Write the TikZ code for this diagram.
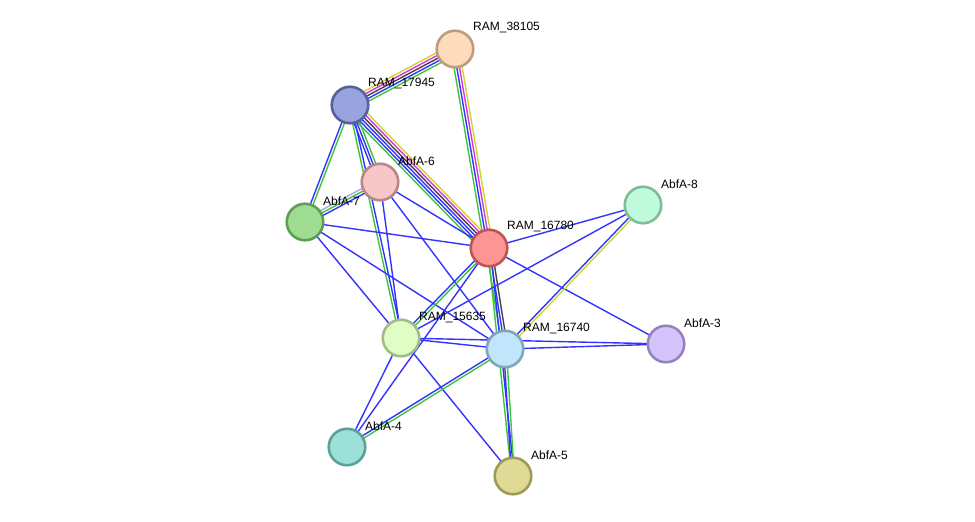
\documentclass[tikz,border=0pt]{standalone}
\usepackage{fontspec}
\setmainfont{Liberation Sans}
\usetikzlibrary{calc,backgrounds}
\definecolor{eg}{HTML}{3DC43D}
\definecolor{eb}{HTML}{3333FF}
\definecolor{ek}{HTML}{444444}
\definecolor{em}{HTML}{DD33DD}
\definecolor{ey}{HTML}{C8D830}
\definecolor{el}{HTML}{A8A8F0}
\tikzset{
  prot/.style={circle, minimum size=36.5pt, inner sep=0pt, line width=2.6pt},
  lbl/.style={anchor=west, font=\fontsize{12}{14}\selectfont, text=black, inner sep=0pt},
  edgeline/.style={line width=1.4pt}
}
\newcommand\edg[4]{%
  \foreach \c [count=\i] in {#4} {%
    \pgfmathsetmacro\off{(\i-(#3+1)/2)*2.7}%
    \draw[\c, edgeline] ($(#1)!\off pt!90:(#2)$) -- ($(#2)!\off pt!-90:(#1)$);%
  }%
}
\begin{document}
\begin{tikzpicture}[x=1pt,y=-1pt]
\useasboundingbox (0,0) rectangle (975,522);
\node[prot, fill={rgb,255:red,253;green,220;blue,190}, draw={rgb,255:red,192;green,154;blue,124}] (R38105) at (455,49) {};
\node[prot, fill={rgb,255:red,153;green,163;blue,223}, draw={rgb,255:red,86;green,96;blue,160}] (R17945) at (350,105) {};
\node[prot, fill={rgb,255:red,247;green,198;blue,198}, draw={rgb,255:red,184;green,136;blue,136}] (A6) at (380,182) {};
\node[prot, fill={rgb,255:red,158;green,221;blue,145}, draw={rgb,255:red,94;green,157;blue,85}] (A7) at (305,222) {};
\node[prot, fill={rgb,255:red,254;green,149;blue,149}, draw={rgb,255:red,190;green,85;blue,85}] (R16780) at (489,248) {};
\node[prot, fill={rgb,255:red,192;green,252;blue,220}, draw={rgb,255:red,128;green,188;blue,156}] (A8) at (643,205) {};
\node[prot, fill={rgb,255:red,224;green,253;blue,197}, draw={rgb,255:red,160;green,189;blue,133}] (R15635) at (401,338) {};
\node[prot, fill={rgb,255:red,193;green,230;blue,251}, draw={rgb,255:red,129;green,166;blue,187}] (R16740) at (505,349) {};
\node[prot, fill={rgb,255:red,213;green,196;blue,251}, draw={rgb,255:red,149;green,132;blue,187}] (A3) at (666,344) {};
\node[prot, fill={rgb,255:red,155;green,224;blue,217}, draw={rgb,255:red,91;green,160;blue,153}] (A4) at (347,447) {};
\node[prot, fill={rgb,255:red,223;green,218;blue,150}, draw={rgb,255:red,159;green,154;blue,86}] (A5) at (513,476) {};
\begin{pgfonlayer}{background}
\edg{R17945}{R38105}{5}{eg,eb,ek,em,ey}
\edg{R38105}{R16780}{4}{eg,eb,em,ey}
\edg{R17945}{R16780}{6}{eg,eb,eb,ek,em,ey}
\edg{R17945}{A7}{2}{eb,eg}
\edg{R17945}{A6}{3}{eb,eb,eg}
\edg{R17945}{R15635}{2}{eg,eb}
\edg{A7}{A6}{3}{eb,eg,el}
\edg{A7}{R16780}{1}{eb}
\edg{A7}{R15635}{1}{eb}
\edg{A7}{R16740}{1}{eb}
\edg{A6}{R16780}{1}{eb}
\edg{A6}{R15635}{1}{eb}
\edg{A6}{R16740}{1}{eb}
\edg{R16780}{A8}{1}{eb}
\edg{R16780}{A3}{1}{eb}
\edg{R16780}{R16740}{3}{eg,eb,ek}
\edg{R16780}{R15635}{2}{eb,eg}
\edg{R16780}{A4}{1}{eb}
\edg{R16780}{A5}{2}{eg,eb}
\edg{A8}{R15635}{1}{eb}
\edg{A8}{R16740}{2}{eb,ey}
\edg{R15635}{R16740}{1}{eb}
\edg{R15635}{A3}{1}{eb}
\edg{R16740}{A3}{1}{eb}
\edg{R15635}{A4}{1}{eb}
\edg{R15635}{A5}{1}{eb}
\edg{R16740}{A4}{2}{eb,eg}
\edg{R16740}{A5}{2}{eb,eg}
\end{pgfonlayer}
\node[lbl] (l1) at ([shift={(18,-21)}]R38105.center) {RAM\_38105};
\node[lbl] (l2) at ([shift={(18,-21)}]R17945.center) {RAM\_17945};
\node[lbl] (l3) at ([shift={(18,-21)}]A6.center) {AbfA-6};
\node[lbl] (l4) at ([shift={(18,-21)}]A7.center) {AbfA-7};
\node[lbl] (l5) at ([shift={(18,-21)}]R16780.center) {RAM\_16780};
\node[lbl] (l6) at ([shift={(18,-21)}]A8.center) {AbfA-8};
\node[lbl] (l7) at ([shift={(18,-21)}]R15635.center) {RAM\_15635};
\node[lbl] (l8) at ([shift={(18,-21)}]R16740.center) {RAM\_16740};
\node[lbl] (l9) at ([shift={(18,-21)}]A3.center) {AbfA-3};
\node[lbl] (l10) at ([shift={(18,-21)}]A4.center) {AbfA-4};
\node[lbl] (l11) at ([shift={(18,-21)}]A5.center) {AbfA-5};
\end{tikzpicture}
\end{document}
